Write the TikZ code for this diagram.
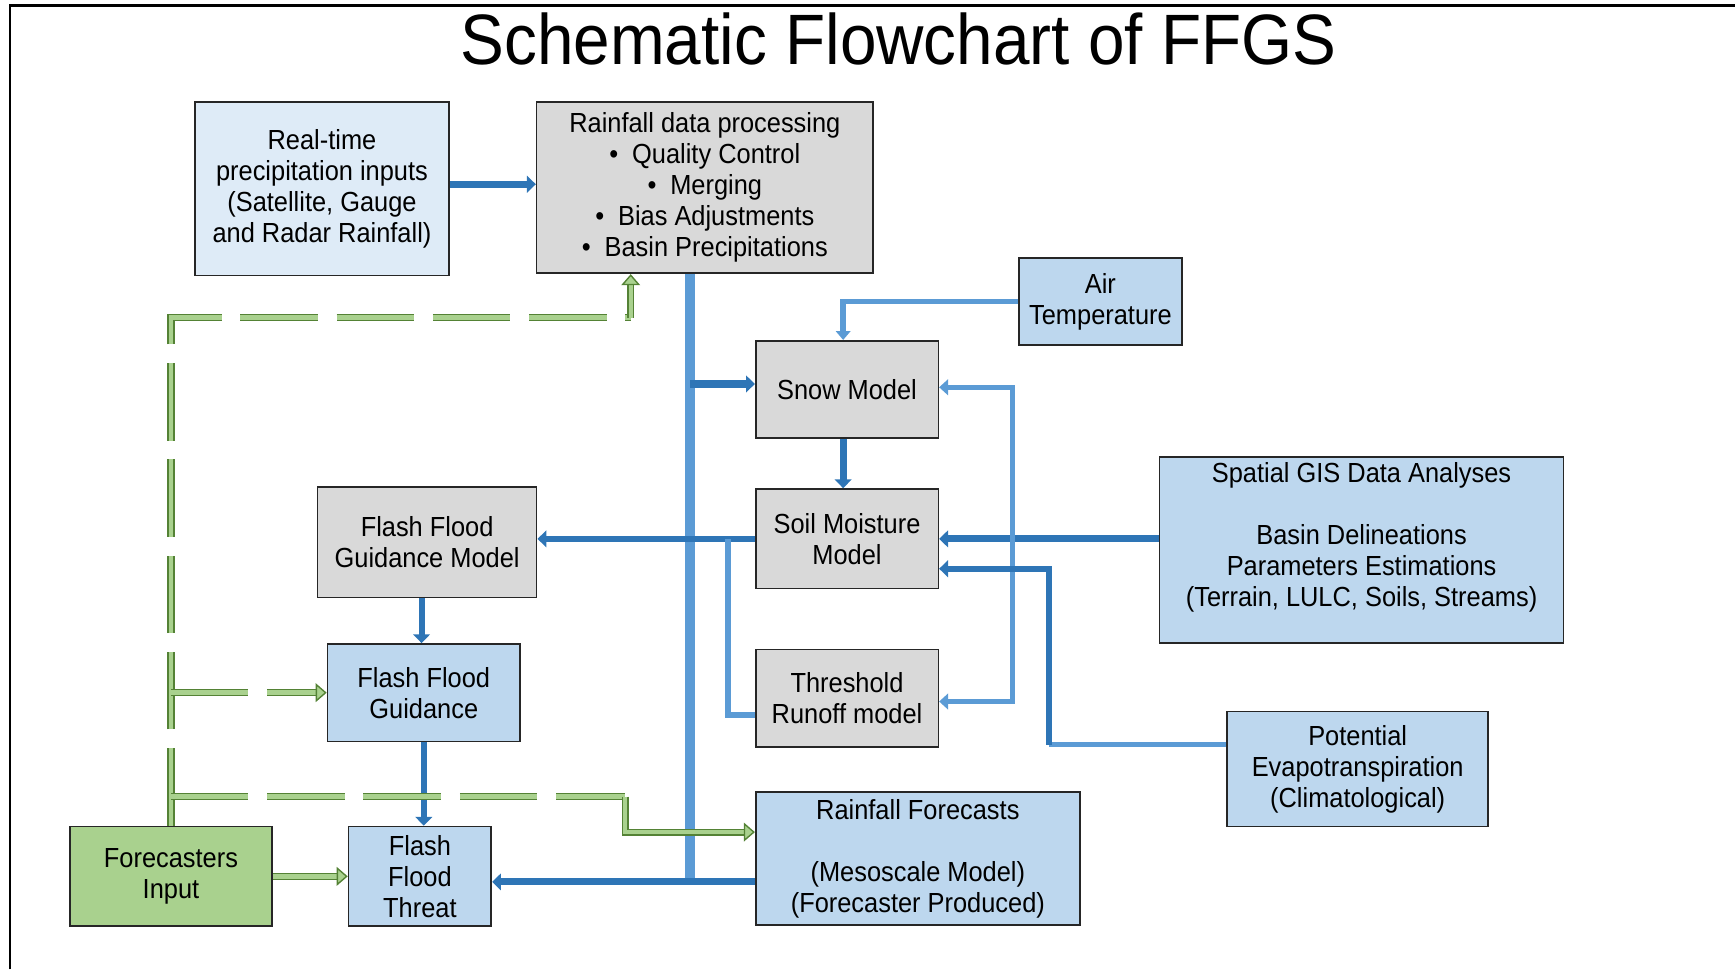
\documentclass[tikz,border=0pt]{standalone}
\usepackage{fontspec}
\setmainfont{Liberation Sans}[FakeStretch=0.92]
\usetikzlibrary{arrows.meta}
\definecolor{procgray}{HTML}{D9D9D9}
\definecolor{paleblue}{HTML}{DEEBF7}
\definecolor{inblue}{HTML}{BDD7EE}
\definecolor{fcgreen}{HTML}{A9D18E}
\definecolor{edgegreen}{HTML}{548235}
\definecolor{darkflow}{HTML}{2E75B6}
\definecolor{midflow}{HTML}{5B9BD5}

\begin{document}
\begin{tikzpicture}[x=0.2mm, y=-0.2mm,
		box/.style={draw=black!85, line width=0.3mm, inner sep=0pt, align=center, font=\fontsize{14.2pt}{15.9pt}\selectfont},
		flowthick/.style={draw=darkflow, line width=1.3mm, -{Triangle[length=1.6mm,width=3mm]}},
		flowthin/.style={draw=midflow, line width=1mm},
		trunkline/.style={draw=midflow, line width=1.8mm},
		greenflow/.style={draw=edgegreen, line width=0.25mm, double=fcgreen, double distance=0.8mm},
		greendash/.style={greenflow, dash pattern=on 14mm off 3.4mm},
		greentip/.style={-{Triangle[length=2mm,width=3.4mm,fill=fcgreen,line width=0.25mm]}}]
			%%%%% START %%%%%
			
			\useasboundingbox (0, 0) rectangle (1568, 876);
			\draw[line width=0.4mm] (9, 876) -- (9, 5) -- (1568, 5);
			
			\node[font=\fontsize{36.7pt}{40pt}\selectfont, anchor=base] (title) at (812, 58) {Schematic Flowchart of FFGS};
			
			\node[box, fill=paleblue, minimum width=46mm, minimum height=31.4mm] (realtime) at (291, 170.5) {Real-time\\precipitation inputs\\(Satellite, Gauge\\and Radar Rainfall)};
			\node[box, fill=procgray, minimum width=60.8mm, minimum height=31mm] (rainproc) at (637, 169.5) {Rainfall data processing\\\textbullet\enspace Quality Control\\\textbullet\enspace Merging\\\textbullet\enspace Bias Adjustments\\\textbullet\enspace Basin Precipitations};
			\node[box, fill=inblue, minimum width=29.4mm, minimum height=15.8mm] (airtemp) at (994.5, 272.5) {Air\\Temperature};
			\node[box, fill=procgray, minimum width=33mm, minimum height=17.6mm] (snow) at (765.5, 352) {Snow Model};
			\node[box, fill=procgray, minimum width=33mm, minimum height=18mm] (soil) at (765.5, 487) {Soil Moisture\\Model};
			\node[box, fill=procgray, minimum width=39.6mm, minimum height=20mm] (ffgmodel) at (386, 490) {Flash Flood\\Guidance Model};
			\node[box, fill=inblue, minimum width=73mm, minimum height=33.6mm] (gis) at (1230.5, 497) {Spatial GIS Data Analyses\\[15.9pt]Basin Delineations\\Parameters Estimations\\(Terrain, LULC, Soils, Streams)\\~};
			\node[box, fill=inblue, minimum width=34.8mm, minimum height=17.6mm] (ffg) at (383, 626) {Flash Flood\\Guidance};
			\node[box, fill=procgray, minimum width=33mm, minimum height=17.6mm] (runoff) at (765.5, 631) {Threshold\\Runoff model};
			\node[box, fill=inblue, minimum width=47.2mm, minimum height=20.8mm] (pet) at (1227, 695) {Potential\\Evapotranspiration\\(Climatological)};
			\node[box, fill=inblue, minimum width=58.6mm, minimum height=24mm] (forecast) at (829.5, 776) {Rainfall Forecasts\\[15.9pt](Mesoscale Model)\\(Forecaster Produced)};
			\node[box, fill=fcgreen, minimum width=36.6mm, minimum height=18mm] (fcinput) at (154.5, 792) {Forecasters\\Input};
			\node[box, fill=inblue, minimum width=25.8mm, minimum height=18mm] (threat) at (379.5, 792) {Flash\\Flood\\Threat};
			
			\coordinate (trunk) at (624, 797);
			\coordinate (split) at (658, 487);
			\coordinate (gisbus) at (915, 487);
			\coordinate (petbend) at (948, 673);
			\coordinate (gup) at (570, 287);
			\coordinate (gmid) at (565, 720);
			
			% blue flows
			\draw[trunkline] (rainproc.south -| trunk) -- (trunk);
			\draw[flowthick] ([yshift=0.8mm]realtime.east) -- ([yshift=0.8mm]realtime.east -| rainproc.west);
			\draw[flowthick] ([yshift=1mm]snow.west -| trunk) -- ([yshift=1mm]snow.west);
			\draw[flowthin, -{Triangle[length=1.6mm,width=2.6mm]}] (airtemp.west) -| ([xshift=-0.7mm]snow.north);
			\draw[flowthick] ([xshift=-0.7mm]snow.south) -- ([xshift=-0.7mm]soil.north);
			\draw[flowthick, line width=1.1mm] (soil.west) -- (soil.west -| ffgmodel.east);
			\draw[flowthin] ([yshift=-3mm]runoff.west) -| (split);
			\draw[flowthick] (gis.west |- soil.east) -- (soil.east);
			\draw[flowthin, -{Triangle[length=1.6mm,width=2.8mm]}] (gisbus) |- ([yshift=0.4mm]snow.east);
			\draw[flowthin, -{Triangle[length=1.6mm,width=2.8mm]}] (gisbus) |- ([yshift=-0.6mm]runoff.east);
			\draw[flowthin] (pet.west |- petbend) -- (petbend);
			\draw[flowthick, line width=1.1mm] (petbend) |- ([yshift=-5.4mm]soil.east);
			\draw[flowthick, line width=1.1mm] ([xshift=-1mm]ffgmodel.south) -- ([xshift=-1mm]ffgmodel.south |- ffg.north);
			\draw[flowthick, line width=1.1mm] (ffg.south) -- (ffg.south |- threat.north);
			\draw[flowthick] (forecast.west |- trunk) -- (threat.east |- trunk);
			
			% forecaster feedback
			\draw[greendash] (fcinput.north) |- (gup);
			\draw[greenflow, greentip] (gup) -- (gup |- rainproc.south);
			\draw[greendash, greentip] (fcinput.north |- ffg.west) -- (ffg.west);
			\draw[greendash] (fcinput.north |- gmid) -- (gmid);
			\draw[greenflow, greentip] (gmid) |- ([yshift=4.8mm]forecast.west);
			\draw[greenflow, greentip] (fcinput.east) -- (threat.west);
			
			%%%%% END %%%%%
		\end{tikzpicture}
\end{document}
